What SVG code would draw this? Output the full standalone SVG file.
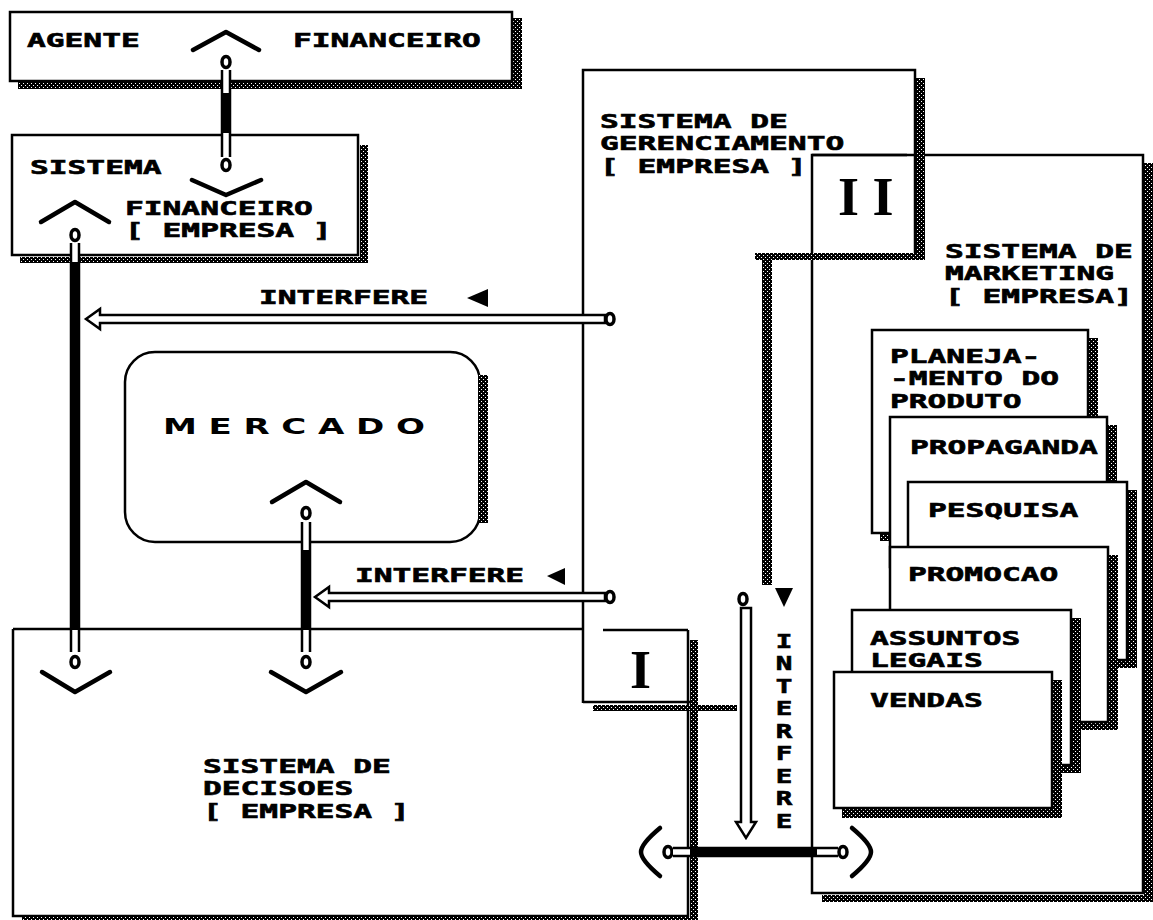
<svg xmlns="http://www.w3.org/2000/svg" width="1153" height="920" viewBox="0 0 1153 920">
<defs>
<pattern id="dots" width="4" height="4" patternUnits="userSpaceOnUse"><rect width="4" height="4" fill="#000"/><rect x="1" y="1" width="1" height="1" fill="#fff"/><rect x="3" y="3" width="1" height="1" fill="#fff"/></pattern>
<style>
.sh{fill:url(#dots)}
.box{fill:#fff;stroke:#000;stroke-width:2.5}
.ln{fill:none;stroke:#000;stroke-width:2.5}
.t{font-family:"DejaVu Sans Mono","Liberation Mono",monospace;font-weight:bold;font-size:19px;fill:#000;stroke:#000;stroke-width:0.6}
.v{font-family:"DejaVu Sans Mono","Liberation Mono",monospace;font-weight:bold;font-size:19px;fill:#000;stroke:#000;stroke-width:0.6;writing-mode:vertical-rl;text-orientation:upright}
.m{font-family:"DejaVu Sans","Liberation Sans",sans-serif;font-weight:bold;font-size:22px;fill:#000}
.big{font-family:"Liberation Serif","DejaVu Serif",serif;font-weight:bold;font-size:54px;fill:#000}
.car{fill:none;stroke:#000;stroke-width:4.5;stroke-linejoin:round;stroke-linecap:round}
.o{fill:#fff;stroke:#000;stroke-width:3.5}
.pw{fill:#fff}
.pb{fill:#000}
.pl{stroke:#000;stroke-width:2.5}
.arr{fill:#fff;stroke:#000;stroke-width:2.5;stroke-linejoin:miter}
</style>
</defs>
<rect width="1153" height="920" fill="#fff"/>

<g id="decisoes">
<path class="ln" d="M13,629 H583 M603,630 H688 M13,629 V916 H688 V630"/>
<rect class="sh" x="690" y="640" width="8" height="280"/>
<rect class="sh" x="22" y="917" width="676" height="3"/>
<text class="t" transform="translate(203,773) scale(1.643,1)"><tspan x="0" y="0">SISTEMA DE</tspan><tspan x="0" y="22.5">DECISOES</tspan><tspan x="0" y="45">[ EMPRESA ]</tspan></text>
</g>

<g id="marketing">
<rect class="ln" x="812" y="155" width="331" height="738"/>
<rect class="sh" x="1144" y="163" width="9" height="739"/>
<rect class="sh" x="822" y="895" width="331" height="7"/>
<text class="t" transform="translate(945,258) scale(1.643,1)"><tspan x="0" y="0">SISTEMA DE</tspan><tspan x="0" y="22.5">MARKETING</tspan><tspan x="0" y="45">[ EMPRESA]</tspan></text>
</g>

<g id="gerenciamento">
<path class="ln" d="M583,703 V70 H915 V253"/>
<path class="ln" d="M583,702 H690"/>
<rect class="sh" x="916" y="78" width="9" height="182"/>
<rect class="sh" x="755" y="253" width="170" height="7"/>
<rect class="sh" x="762" y="253" width="10" height="332"/>
<rect class="sh" x="593" y="705" width="144" height="6"/>
<text class="t" transform="translate(600,128) scale(1.643,1)"><tspan x="0" y="0">SISTEMA DE</tspan><tspan x="0" y="22.5">GERENCIAMENTO</tspan><tspan x="0" y="45">[ EMPRESA ]</tspan></text>
</g>

<g id="regiao-II">
<path class="ln" d="M812,155 H907"/>
<text class="big" x="838" y="215">I I</text>
</g>

<g id="regiao-I">
<text class="big" x="630" y="688">I</text>
</g>

<g id="planejamento">
<rect class="sh" x="1089" y="338" width="9" height="203"/>
<rect class="sh" x="880" y="534" width="218" height="7"/>
<rect class="box" x="872" y="330" width="216" height="203"/>
<text class="t" transform="translate(890,363) scale(1.643,1)"><tspan x="0" y="0">PLANEJA-</tspan><tspan x="0" y="22.5">-MENTO DO</tspan><tspan x="0" y="45">PRODUTO</tspan></text>
</g>

<g id="propaganda">
<rect class="sh" x="1108" y="425" width="9" height="150"/>
<rect class="box" x="890" y="417" width="217" height="150"/>
<text class="t" transform="translate(910,454) scale(1.643,1)">PROPAGANDA</text>
</g>

<g id="pesquisa">
<rect class="sh" x="1128" y="490" width="9" height="178"/>
<rect class="sh" x="916" y="661" width="221" height="7"/>
<rect class="box" x="908" y="482" width="219" height="178"/>
<text class="t" transform="translate(928,517) scale(1.643,1)">PESQUISA</text>
</g>

<g id="promocao">
<rect class="sh" x="1109" y="555" width="9" height="175"/>
<rect class="sh" x="898" y="723" width="220" height="7"/>
<rect class="box" x="890" y="547" width="218" height="175"/>
<text class="t" transform="translate(908,581) scale(1.643,1)">PROMOCAO</text>
</g>

<g id="assuntos-legais">
<rect class="sh" x="1072" y="618" width="9" height="154"/>
<rect class="sh" x="860" y="766" width="221" height="7"/>
<rect class="box" x="852" y="610" width="219" height="155"/>
<text class="t" transform="translate(870,645) scale(1.643,1)"><tspan x="0" y="0">ASSUNTOS</tspan><tspan x="0" y="22.5">LEGAIS</tspan></text>
</g>

<g id="vendas">
<rect class="sh" x="1053" y="680" width="9" height="138"/>
<rect class="sh" x="842" y="809" width="220" height="9"/>
<rect class="box" x="834" y="672" width="218" height="136"/>
<text class="t" transform="translate(870,707) scale(1.643,1)">VENDAS</text>
</g>

<g id="agente-financeiro">
<rect class="sh" x="513" y="18" width="9" height="71"/>
<rect class="sh" x="18" y="82" width="504" height="7"/>
<rect class="box" x="10" y="12" width="502" height="69"/>
<text class="t" transform="translate(27,47) scale(1.643,1)">AGENTE</text>
<text class="t" transform="translate(293,47) scale(1.643,1)">FINANCEIRO</text>
</g>

<g id="sistema-financeiro">
<rect class="sh" x="360" y="145" width="8" height="118"/>
<rect class="sh" x="20" y="257" width="348" height="6"/>
<rect class="box" x="12" y="135" width="346" height="120"/>
<text class="t" transform="translate(30,174) scale(1.643,1)">SISTEMA</text>
<text class="t" transform="translate(125,215) scale(1.643,1)"><tspan x="0" y="0">FINANCEIRO</tspan><tspan x="0" y="22.5">[ EMPRESA ]</tspan></text>
</g>

<g id="mercado">
<rect class="box" x="125" y="352" width="355" height="190" rx="30" ry="30" stroke-width="3"/>
<rect class="sh" x="478" y="375" width="10" height="148"/>
<text class="m" transform="translate(163,434) scale(1.55,1)" letter-spacing="7.5">MERCADO</text>
</g>

<g id="connectors">
<polyline class="car" points="193,50 226,32 259,50"/>
<ellipse class="o" cx="226" cy="62" rx="4" ry="5.5"/>
<rect class="pw" x="221.5" y="70" width="9" height="87"/>
<rect class="pb" x="221.5" y="93" width="9" height="40"/>
<path class="pl" d="M222,70 V157 M230,70 V157"/>
<ellipse class="o" cx="226" cy="165" rx="4" ry="5.5"/>
<polyline class="car" points="192,180 226,195 261,180"/>

<polyline class="car" points="41,222 75,202 109,222"/>
<ellipse class="o" cx="75" cy="235" rx="4" ry="5.5"/>
<rect class="pw" x="70.5" y="243" width="9" height="409"/>
<rect class="pb" x="70.5" y="262" width="9" height="368"/>
<path class="pl" d="M71,243 V652 M79,243 V652"/>
<ellipse class="o" cx="75" cy="662" rx="4" ry="5.5"/>
<polyline class="car" points="42,672 75,692 110,672"/>

<polyline class="car" points="272,502 306,482 340,502"/>
<ellipse class="o" cx="306" cy="513" rx="4" ry="5.5"/>
<rect class="pw" x="301.5" y="522" width="9" height="130"/>
<rect class="pb" x="301.5" y="550" width="9" height="80"/>
<path class="pl" d="M302,522 V652 M310,522 V652"/>
<ellipse class="o" cx="306" cy="662" rx="4" ry="5.5"/>
<polyline class="car" points="271,672 306,692 341,672"/>

<path class="arr" d="M605,315 H100 V309 L86,319 L100,329 V323 H605 Z"/>
<ellipse class="o" cx="610" cy="319" rx="4" ry="5.5"/>
<text class="t" transform="translate(259,304) scale(1.643,1)">INTERFERE</text>
<polygon points="488,289 488,307 467,298" fill="#000"/>

<path class="arr" d="M605,593 H329 V587 L315,597 L329,607 V601 H605 Z"/>
<ellipse class="o" cx="610" cy="597" rx="4" ry="5.5"/>
<text class="t" transform="translate(355,582) scale(1.643,1)">INTERFERE</text>
<polygon points="565,568 565,585 547,576" fill="#000"/>

<ellipse class="o" cx="743" cy="599" rx="4" ry="5.5"/>
<path class="arr" d="M741,608 V822 H736 L746,838 L756,822 H751 V608 Z"/>
<polygon points="775,588 793,588 784,607" fill="#000"/>
<text class="v" transform="translate(784,630) scale(1.45,1)" x="0" y="0">INTERFERE</text>

<path class="car" d="M660,828 C648,838 641,846 641,852 C641,858 648,866 660,876"/>
<ellipse class="o" cx="668" cy="852" rx="4" ry="5.5"/>
<rect class="pw" x="673" y="847.5" width="165" height="9"/>
<rect class="pb" x="690" y="847.5" width="127" height="9"/>
<path class="pl" d="M673,848 H838 M673,856 H838"/>
<ellipse class="o" cx="843" cy="852" rx="4" ry="5.5"/>
<path class="car" d="M852,828 C864,838 871,846 871,852 C871,858 864,866 852,876"/>
</g>
</svg>
